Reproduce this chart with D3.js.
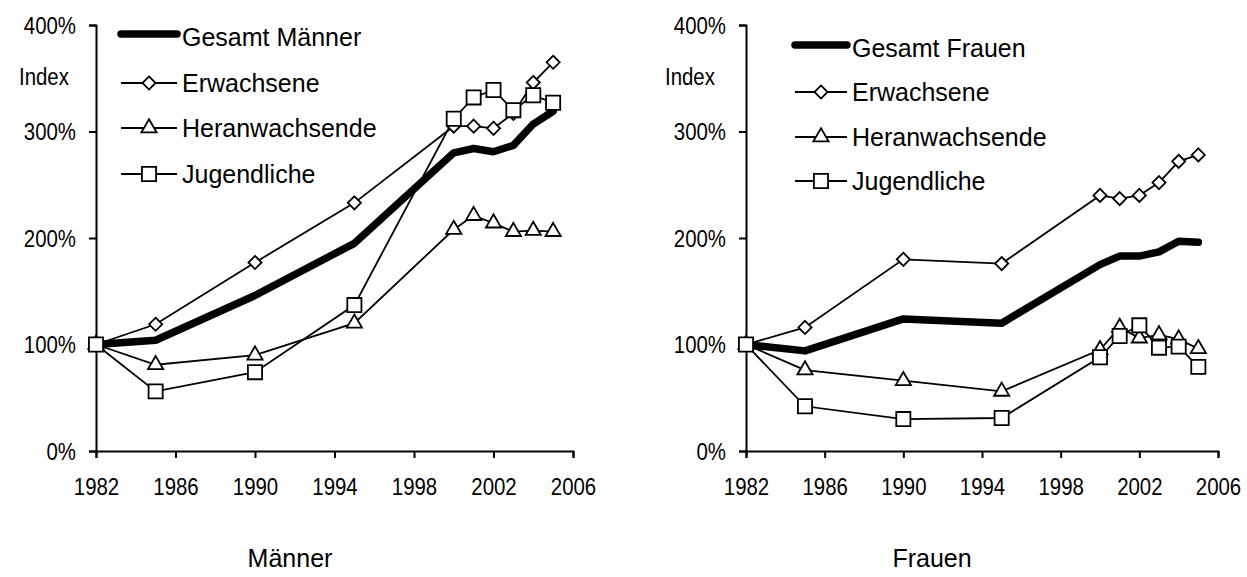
<!DOCTYPE html>
<html>
<head>
<meta charset="utf-8">
<script src="https://cdn.jsdelivr.net/npm/d3@7"></script>
<style>
body { margin: 0; background: #fff; }
text { font-family: "Liberation Sans", Arial, sans-serif; fill: #000; }
</style>
</head>
<body>
<script>
/* index values (1982 = 100%) */
var years = [1982, 1985, 1990, 1995, 2000, 2001, 2002, 2003, 2004, 2005];

var maennerGesamt   = [100, 104, 146, 195, 280, 284, 281, 287, 307, 319];
var maennerErw      = [100, 119, 177, 233, 305, 305, 303, 317, 346, 365];
var maennerHeran    = [100,  81,  90, 120, 208, 221, 214, 206, 207, 206];
var maennerJugend   = [100,  56,  74, 137, 312, 332, 339, 320, 334, 327];

var frauenGesamt    = [100,  94, 124, 120, 175, 183, 183, 187, 197, 196];
var frauenErw       = [100, 116, 180, 176, 240, 237, 240, 252, 272, 278];
var frauenHeran     = [100,  76,  66,  56,  95, 116, 106, 109, 105,  96];
var frauenJugend    = [100,  42,  30,  31,  88, 108, 118,  97,  98,  79];

var xTicks = [1982, 1986, 1990, 1994, 1998, 2002, 2006];
var yTicks = [0, 100, 200, 300, 400];
var seriesNames = ["Erwachsene", "Heranwachsende", "Jugendliche"];

var svg = d3.select("body").append("svg")
            .attr("width", 1247)
            .attr("height", 577);

var panels = [
  { x0: 96,  x1: 573,  title: "Männer", titleX: 290, gesamtLabel: "Gesamt Männer",
    indexX: 19, legX: 121, legLen: 56, legY: [34, 83, 128, 174],
    gesamt: maennerGesamt, others: [maennerErw, maennerHeran, maennerJugend] },
  { x0: 746, x1: 1218, title: "Frauen", titleX: 932, gesamtLabel: "Gesamt Frauen",
    indexX: 665, legX: 795, legLen: 52, legY: [45, 92, 137, 181],
    gesamt: frauenGesamt, others: [frauenErw, frauenHeran, frauenJugend] }
];

var symbols = [d3.symbolDiamond2, d3.symbolTriangle, d3.symbolSquare];
var symSizes = [110, 100, 200];

function marker(g, i, cx, cy) {
  g.append("path")
   .attr("d", d3.symbol().type(symbols[i]).size(symSizes[i])())
   .attr("transform", "translate(" + cx + "," + cy + ")")
   .attr("fill", "#fff")
   .attr("stroke", "#000")
   .attr("stroke-width", 1.8);
}

panels.forEach(function(p) {
  var g = svg.append("g");
  var x = d3.scaleLinear().domain([1982, 2006]).range([p.x0, p.x1]);
  var y = d3.scaleLinear().domain([0, 400]).range([451, 25]);

  // axes
  var ya = g.append("g")
            .attr("transform", "translate(" + p.x0 + ",0)")
            .call(d3.axisLeft(y).tickValues(yTicks).tickSize(7)
                    .tickFormat(function(d) { return d + "%"; }));
  var xa = g.append("g")
            .attr("transform", "translate(0,451)")
            .call(d3.axisBottom(x).tickValues(xTicks).tickSize(7)
                    .tickFormat(d3.format("d")));
  [ya, xa].forEach(function(a) {
    a.selectAll("path, line").attr("stroke", "#000").attr("stroke-width", 2);
    a.selectAll("text").style("font-size", "24px")
     .style("font-family", "'Liberation Sans', Arial, sans-serif").attr("fill", "#000");
  });
  // tick labels are a little condensed in the original
  ya.selectAll("text").attr("x", 0).attr("dy", "0.35em")
    .attr("transform", "translate(-20,0) scale(0.85,1)");
  xa.selectAll("text").attr("y", 0).attr("dy", "0.71em")
    .attr("transform", "translate(0,27) scale(0.85,1)");

  g.append("text").attr("dy", "0.35em")
   .attr("transform", "translate(" + p.indexX + ",77) scale(0.85,1)")
   .style("font-size", "24px").text("Index");

  var line = d3.line()
               .x(function(d, i) { return x(years[i]); })
               .y(function(d) { return y(d); });

  // Gesamt: thick line
  g.append("path").attr("d", line(p.gesamt))
   .attr("fill", "none").attr("stroke", "#000")
   .attr("stroke-width", 7.5).attr("stroke-linejoin", "round").attr("stroke-linecap", "round");

  // other series with markers
  p.others.forEach(function(vals) {
    g.append("path").attr("d", line(vals))
     .attr("fill", "none").attr("stroke", "#000").attr("stroke-width", 1.8);
  });
  p.others.forEach(function(vals, si) {
    vals.forEach(function(v, i) { marker(g, si, x(years[i]), y(v)); });
  });

  // legend
  g.append("line").attr("x1", p.legX).attr("x2", p.legX + p.legLen)
   .attr("y1", p.legY[0]).attr("y2", p.legY[0])
   .attr("stroke", "#000").attr("stroke-width", 7.5).attr("stroke-linecap", "round");
  g.append("text").attr("x", p.legX + p.legLen + 5).attr("y", p.legY[0] + 3).attr("dy", "0.35em")
   .style("font-size", "25px").text(p.gesamtLabel);
  seriesNames.forEach(function(name, si) {
    var ly = p.legY[si + 1];
    g.append("line").attr("x1", p.legX).attr("x2", p.legX + p.legLen)
     .attr("y1", ly).attr("y2", ly).attr("stroke", "#000").attr("stroke-width", 1.8);
    marker(g, si, p.legX + p.legLen / 2, ly);
    g.append("text").attr("x", p.legX + p.legLen + 5).attr("y", ly).attr("dy", "0.35em")
     .style("font-size", "25px").text(name);
  });

  // panel title
  g.append("text").attr("x", p.titleX).attr("y", 558).attr("dy", "0.35em")
   .attr("text-anchor", "middle").style("font-size", "25px").text(p.title);
});
</script>
</body>
</html>
